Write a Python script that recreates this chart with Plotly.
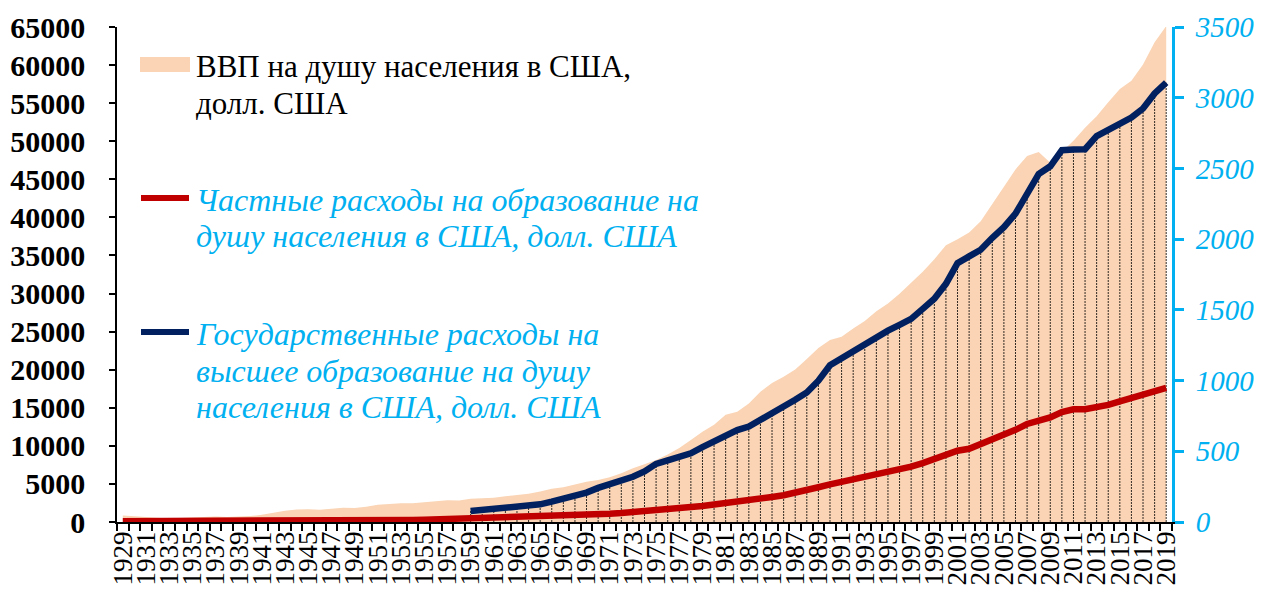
import plotly.graph_objects as go

years = list(range(1929, 2020))

gdp_per_capita = [
    857, 746, 620, 470, 447, 520, 570, 650, 710, 660, 710,
    773, 950, 1216, 1490, 1640, 1675, 1610, 1730, 1880, 1850,
    2000, 2260, 2360, 2470, 2450, 2630, 2730, 2840, 2830, 3060,
    3120, 3180, 3380, 3510, 3720, 4000, 4360, 4550, 4920, 5280,
    5500, 5880, 6410, 7060, 7580, 8150, 8880, 9720, 10760, 11840,
    12760, 14080, 14480, 15550, 17100, 18240, 19070, 20040, 21420, 22860,
    23890, 24340, 25420, 26390, 27690, 28690, 29970, 31460, 32850, 34510,
    36330, 37130, 38020, 39500, 41720, 44110, 46300, 48050, 48570, 47190,
    48650, 50070, 51780, 53290, 55120, 56850, 57930, 60060, 62990, 65120,
]

private_edu = [
    6, 6, 5, 5, 4, 4, 4, 5, 5, 5, 5,
    5, 5, 5, 6, 6, 7, 8, 9, 10, 10,
    11, 12, 13, 14, 15, 16, 18, 20, 22, 24,
    27, 29, 31, 33, 36, 39, 42, 45, 48, 51,
    55, 58, 63, 69, 76, 83, 90, 97, 104, 113,
    123, 132, 142, 151, 163, 177, 189, 205, 226, 246,
    266, 284, 300, 319, 333, 350, 371, 392, 416, 445,
    480, 504, 518, 551, 579, 615, 652, 693, 716, 740,
    778, 797, 797, 811, 828, 853, 877, 899, 920, 948,
]

gov_years = list(range(1959, 2020))
gov_higher_edu = [
    78, 85, 90, 97, 101, 111, 125, 144, 163, 182, 208,
    241, 267, 292, 320, 358, 411, 435, 460, 486, 530,
    570, 612, 650, 675, 720, 770, 817, 864, 916, 999,
    1108, 1158, 1208, 1259, 1302, 1353, 1394, 1436, 1507, 1578,
    1684, 1830, 1878, 1925, 2010, 2085, 2180, 2322, 2460, 2515,
    2629, 2634, 2636, 2728, 2775, 2818, 2860, 2924, 3030, 3106,
]

legend_gdp = ["ВВП на душу населения в США,", "долл. США"]
legend_private = ["Частные расходы на образование на", "душу населения в США, долл. США"]
legend_gov = ["Государственные расходы на", "высшее образование на душу", "населения в США, долл. США"]

PEACH = "#FAD4B4"
RED = "#C00000"
NAVY = "#002060"
CYAN = "#00B0F0"
SERIF = "Liberation Serif"

# page offset of the plot div (browser body margin)
OFF = 8
# plot area in screenshot pixels
X0, X1, Y0, Y1 = 117, 1172, 27, 522
W, H = 1250, 600
L, T = X0 - OFF, Y0 - OFF
R = W - (X1 - OFF)
B = H - (Y1 - OFF)
pw, ph = X1 - X0, Y1 - Y0


def px(xp):
    return (xp - X0) / pw


def py(yp):
    return (Y1 - yp) / ph


fig = go.Figure()

fig.add_trace(go.Scatter(
    x=years, y=gdp_per_capita, mode="lines", fill="tozeroy",
    fillcolor=PEACH, line=dict(width=0, color=PEACH),
    yaxis="y", showlegend=False, hoverinfo="skip"))

# drop lines from the government series down to the axis
dx, dy = [], []
for yr, v in zip(gov_years, gov_higher_edu):
    dx += [yr, yr, None]
    dy += [0, v, None]
fig.add_trace(go.Scatter(
    x=dx, y=dy, mode="lines", yaxis="y2",
    line=dict(color="rgba(0,0,0,0.8)", width=1, dash="2px,1px"),
    showlegend=False, hoverinfo="skip"))

fig.add_trace(go.Scatter(
    x=years, y=private_edu, mode="lines", yaxis="y2",
    line=dict(color=RED, width=6.5), showlegend=False))

fig.add_trace(go.Scatter(
    x=gov_years, y=gov_higher_edu, mode="lines", yaxis="y2",
    line=dict(color=NAVY, width=6.5), showlegend=False))

# manual legend
fig.add_shape(type="rect", xref="paper", yref="paper",
              x0=px(140), x1=px(190), y0=py(72), y1=py(57),
              fillcolor=PEACH, line=dict(width=0))
fig.add_shape(type="line", xref="paper", yref="paper",
              x0=px(141), x1=px(189), y0=py(198), y1=py(198),
              line=dict(color=RED, width=6))
fig.add_shape(type="line", xref="paper", yref="paper",
              x0=px(141), x1=px(189), y0=py(332), y1=py(332),
              line=dict(color=NAVY, width=6))

LEG_SIZE = 32
for i, t in enumerate(legend_gdp):
    fig.add_annotation(text=t, xref="paper", yref="paper", x=px(194), y=py(67 + i * 36),
                       xanchor="left", yanchor="middle", showarrow=False,
                       font=dict(family=SERIF, size=LEG_SIZE - 1, color="black"))
for i, t in enumerate(legend_private):
    fig.add_annotation(text=t, xref="paper", yref="paper", x=px(194), y=py(200 + i * 36),
                       xanchor="left", yanchor="middle", showarrow=False,
                       font=dict(family=SERIF, size=LEG_SIZE, color=CYAN, style="italic"))
for i, t in enumerate(legend_gov):
    fig.add_annotation(text=t, xref="paper", yref="paper", x=px(194), y=py(334 + i * 36.5),
                       xanchor="left", yanchor="middle", showarrow=False,
                       font=dict(family=SERIF, size=LEG_SIZE, color=CYAN, style="italic"))

fig.update_layout(
    width=W, height=H,
    margin=dict(l=L, r=R, t=T, b=B),
    paper_bgcolor="white", plot_bgcolor="white",
    showlegend=False,
    xaxis=dict(
        range=[years[0] - 0.5, years[-1] + 0.5],
        tickmode="array", tickvals=years[::2], ticktext=[str(y) for y in years[::2]],
        tickangle=-90, ticks="", ticklabelstandoff=-3,
        tickfont=dict(family=SERIF, size=27, color="black"),
        minor=dict(tickmode="array", tickvals=[y - 0.5 for y in years] + [years[-1] + 0.5],
                   ticks="outside", ticklen=7, tickwidth=1.5, tickcolor="black", showgrid=False),
        showline=True, linecolor="black", linewidth=1.5,
        showgrid=False, zeroline=False, automargin=False,
    ),
    yaxis=dict(
        range=[0, 65000], tickmode="linear", tick0=0, dtick=5000, tickformat="d",
        ticks="outside", ticklen=6, tickwidth=1.5, tickcolor="black",
        ticklabelstandoff=18,
        tickfont=dict(family=SERIF, size=30, color="black", weight="bold"),
        showline=True, linecolor="black", linewidth=1.5,
        showgrid=False, zeroline=False, automargin=False,
    ),
    yaxis2=dict(
        overlaying="y", side="right",
        range=[0, 3500], tickmode="linear", tick0=0, dtick=500, tickformat="d",
        ticks="outside", ticklen=9, tickwidth=3, tickcolor=CYAN,
        ticklabelstandoff=6,
        tickfont=dict(family=SERIF, size=29, color=CYAN, style="italic"),
        showline=True, linecolor=CYAN, linewidth=3,
        showgrid=False, zeroline=False, automargin=False,
    ),
)

fig.write_html("out.html")
